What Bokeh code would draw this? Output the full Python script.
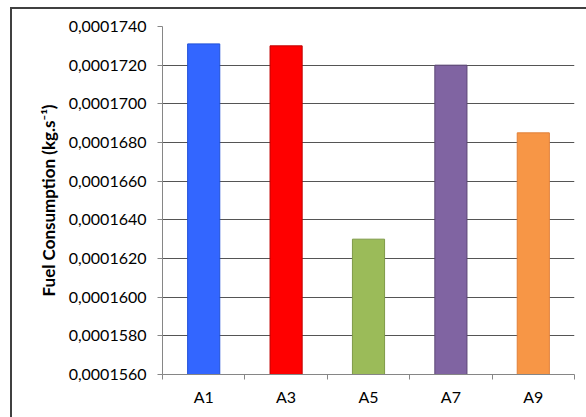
from bokeh.plotting import figure
from bokeh.models import Range1d, FixedTicker, CustomJSTickFormatter, ColumnDataSource, InlineStyleSheet
from bokeh.embed import file_html
from bokeh.resources import INLINE

# Fuel consumption per configuration (kg/s)
categories = ["A1", "A3", "A5", "A7", "A9"]
fuel = [0.0001731, 0.0001730, 0.0001630, 0.0001720, 0.0001685]
fill_colors = ["#3366FF", "#FF0000", "#9BBB59", "#8064A2", "#F79646"]
edge_colors = ["#1F4FD8", "#C00000", "#7F9A48", "#5C4776", "#E0803A"]
y_ticks = [0.000156 + i * 0.000002 for i in range(10)]

FONT = "Lato"

x_centers = [i + 0.5 for i in range(len(categories))]
src = ColumnDataSource(dict(x=x_centers, top=fuel, fill=fill_colors, edge=edge_colors))

p = figure(width=576, height=410, output_backend="svg", toolbar_location=None,
           x_range=Range1d(0, len(categories)), y_range=Range1d(y_ticks[0], y_ticks[-1]),
           min_border_left=150, min_border_top=17, min_border_bottom=45, min_border_right=14)
p.stylesheets = [InlineStyleSheet(css=":host { border-left: 2px solid #404040; border-top: 2px solid #404040; margin-left: 10px; margin-top: 7px; }")]
p.outline_line_color = None
p.background_fill_color = "white"
p.border_fill_color = "white"

p.vbar(x="x", top="top", bottom=y_ticks[0], width=0.39, source=src,
       fill_color="fill", line_color="edge", line_width=1)

# y axis
p.yaxis.ticker = FixedTicker(ticks=y_ticks, minor_ticks=[])
p.yaxis.formatter = CustomJSTickFormatter(code="return tick.toFixed(7).replace('.', ',');")
p.yaxis.axis_line_color = "#868686"
p.yaxis.major_tick_line_color = "#868686"
p.yaxis.major_tick_out = 5
p.yaxis.major_tick_in = 0
p.yaxis.major_label_text_font = FONT
p.yaxis.major_label_text_font_size = "16px"
p.yaxis.major_label_text_color = "#000000"
p.yaxis.major_label_standoff = 11
p.yaxis.axis_label = "Fuel Consumption (kg.s\u207B\u00B9)"
p.yaxis.axis_label_text_font = FONT
p.yaxis.axis_label_text_font_style = "bold"
p.yaxis.axis_label_text_font_size = "17px"
p.yaxis.axis_label_text_color = "#000000"
p.yaxis.axis_label_standoff = 7

# x axis: labels at category centres, ticks at category boundaries
p.xaxis.ticker = FixedTicker(ticks=x_centers, minor_ticks=list(range(len(categories) + 1)))
p.xaxis.major_label_overrides = {x: c for x, c in zip(x_centers, categories)}
p.xaxis.axis_line_color = "#868686"
p.xaxis.major_tick_line_color = None
p.xaxis.minor_tick_line_color = "#868686"
p.xaxis.minor_tick_out = 5
p.xaxis.minor_tick_in = 0
p.xaxis.major_label_text_font = FONT
p.xaxis.major_label_text_font_size = "16px"
p.xaxis.major_label_text_color = "#000000"
p.xaxis.major_label_standoff = 6

p.xgrid.grid_line_color = None
p.ygrid.grid_line_color = "#555555"
p.ygrid.grid_line_width = 1

open("out.html", "w").write(file_html(p, INLINE))
